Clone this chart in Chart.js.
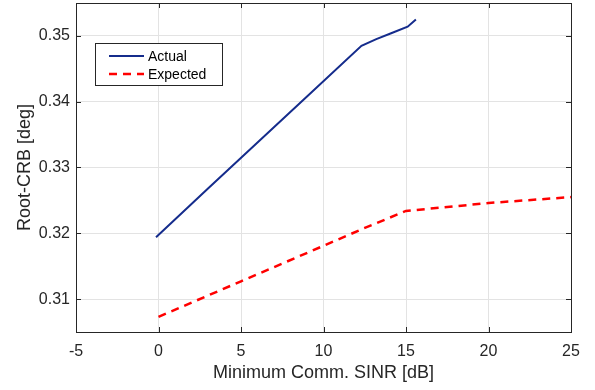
<!DOCTYPE html>
<html>
<head>
<meta charset="utf-8">
<script src="https://cdn.jsdelivr.net/npm/chart.js@4.4.1/dist/chart.umd.min.js"></script>
<style>
  html, body { margin: 0; padding: 0; background: #fff; }
  #wrap { width: 595px; height: 390px; }
</style>
</head>
<body>
<div id="wrap"><canvas id="crbChart" width="595" height="390"></canvas></div>
<script>

/* DATA */

const actualSinr = [-0.15, 3, 6, 9, 12.3, 13.2, 14.1, 15.1, 15.6];
const actualCrb = [0.3194, 0.3268, 0.3338, 0.3408, 0.3485, 0.3495, 0.3504, 0.3514, 0.3525];

const expectedSinr = [0, 5, 10, 12.3, 15, 20, 25];
const expectedCrb = [0.3073, 0.3127, 0.3181, 0.3206, 0.3234, 0.3246, 0.3255];

const xTicks = [-5, 0, 5, 10, 15, 20, 25];
const yTicks = [0.31, 0.32, 0.33, 0.34, 0.35];

const seriesNames = ["Actual", "Expected"];

const FONT = "'Liberation Sans', Arial, Helvetica, sans-serif";
const AXIS = "#262626";


/* BOX, INWARD TICKS AND LEGEND */

const boxPlugin = {
  id: "boxPlugin",
  afterDraw(chart) {
    const ctx = chart.ctx;
    const a = chart.chartArea;
    const xs = chart.scales.x;
    const ys = chart.scales.y;

    ctx.save();
    ctx.strokeStyle = AXIS;
    ctx.lineWidth = 1;
    ctx.strokeRect(Math.round(a.left) + 0.5, Math.round(a.top) + 0.5,
      Math.round(a.right - a.left), Math.round(a.bottom - a.top));

    ctx.beginPath();
    xTicks.forEach(v => {
      const px = Math.round(xs.getPixelForValue(v)) + 0.5;
      ctx.moveTo(px, a.bottom); ctx.lineTo(px, a.bottom - 5);
      ctx.moveTo(px, a.top); ctx.lineTo(px, a.top + 5);
    });
    yTicks.forEach(v => {
      const py = Math.round(ys.getPixelForValue(v)) + 0.5;
      ctx.moveTo(a.left, py); ctx.lineTo(a.left + 5, py);
      ctx.moveTo(a.right, py); ctx.lineTo(a.right - 5, py);
    });
    ctx.stroke();

    // legend
    const lx = 95, ly = 43, lw = 127, lh = 42;
    ctx.fillStyle = "#fff";
    ctx.fillRect(lx, ly, lw, lh);
    ctx.strokeStyle = AXIS;
    ctx.strokeRect(lx + 0.5, ly + 0.5, lw, lh);

    ctx.font = "14px " + FONT;
    ctx.textBaseline = "middle";
    chart.data.datasets.forEach((ds, i) => {
      const y = ly + 13 + i * 18;
      ctx.strokeStyle = ds.borderColor;
      ctx.lineWidth = ds.borderWidth;
      ctx.setLineDash(ds.borderDash || []);
      ctx.beginPath();
      ctx.moveTo(109, y);
      ctx.lineTo(144, y);
      ctx.stroke();
      ctx.setLineDash([]);
      ctx.fillStyle = "#000";
      ctx.fillText(ds.label, 148, y + 1);
    });
    ctx.restore();
  }
};


/* CHART */

new Chart(document.getElementById("crbChart"), {
  type: "line",
  data: {
    datasets: [
      {
        label: seriesNames[0],
        data: actualSinr.map((x, i) => ({ x: x, y: actualCrb[i] })),
        borderColor: "#152c8c",
        borderWidth: 2,
        pointRadius: 0,
        tension: 0
      },
      {
        label: seriesNames[1],
        data: expectedSinr.map((x, i) => ({ x: x, y: expectedCrb[i] })),
        borderColor: "#ff0000",
        borderWidth: 2.5,
        borderDash: [8, 6],
        pointRadius: 0,
        tension: 0
      }
    ]
  },
  options: {
    responsive: false,
    animation: false,
    layout: { padding: { top: 3, right: 24, left: 0, bottom: 0 } },
    plugins: {
      legend: { display: false },
      tooltip: { enabled: false }
    },
    scales: {
      x: {
        type: "linear",
        min: -5,
        max: 25,
        afterBuildTicks: s => { s.ticks = xTicks.map(v => ({ value: v })); },
        afterFit: s => { s.height = 58; s.paddingLeft = 0; s.paddingRight = 0; },
        grid: { color: "#e3e3e3", drawTicks: false },
        border: { display: false },
        ticks: { color: AXIS, font: { family: FONT, size: 16 }, padding: 10, maxRotation: 0 },
        title: {
          display: true,
          text: "Minimum Comm. SINR [dB]",
          color: AXIS,
          font: { family: FONT, size: 18 },
          padding: { top: 0, bottom: 6 }
        }
      },
      y: {
        type: "linear",
        min: 0.305,
        max: 0.355,
        afterBuildTicks: s => { s.ticks = yTicks.map(v => ({ value: v })); },
        afterFit: s => { s.width = 76; s.paddingTop = 0; s.paddingBottom = 0; },
        grid: { color: "#e3e3e3", drawTicks: false },
        border: { display: false },
        ticks: {
          color: AXIS,
          font: { family: FONT, size: 16 },
          padding: 6,
          callback: v => v.toFixed(2)
        },
        title: {
          display: true,
          text: "Root-CRB [deg]",
          color: AXIS,
          font: { family: FONT, size: 18 },
          padding: { top: 14, bottom: 0 }
        }
      }
    }
  },
  plugins: [boxPlugin]
});

</script>
</body>
</html>
